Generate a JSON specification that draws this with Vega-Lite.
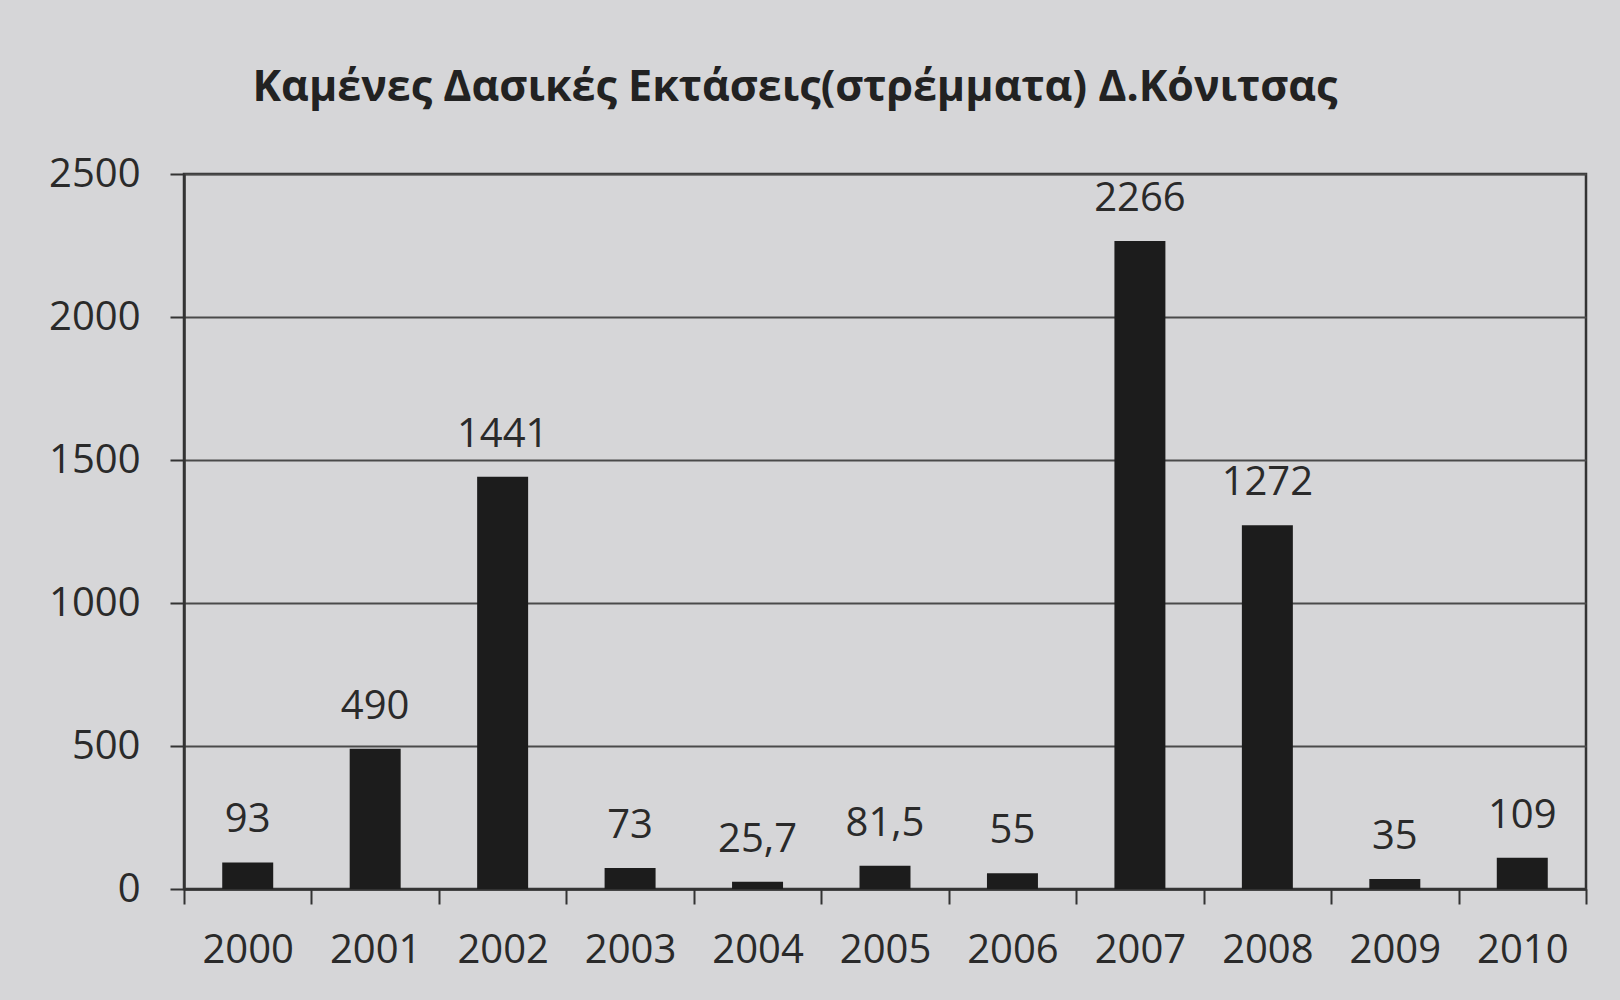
{
  "$schema": "https://vega.github.io/schema/vega-lite/v6.json",
  "width": 1402,
  "height": 715,
  "autosize": {"type": "none"},
  "padding": {"left": 184, "top": 174, "right": 34, "bottom": 111},
  "background": "#d6d6d8",
  "title": {
    "text": "Καμένες Δασικές Εκτάσεις(στρέμματα) Δ.Κόνιτσας",
    "font": "Open Sans",
    "fontSize": 43,
    "fontWeight": "bold",
    "color": "#222222",
    "anchor": "middle",
    "baseline": "alphabetic",
    "offset": 10,
    "dx": -90
  },
  "data": {
    "values": [
      {"year": "2000", "value": 93, "label": "93"},
      {"year": "2001", "value": 490, "label": "490"},
      {"year": "2002", "value": 1441, "label": "1441"},
      {"year": "2003", "value": 73, "label": "73"},
      {"year": "2004", "value": 25.7, "label": "25,7"},
      {"year": "2005", "value": 81.5, "label": "81,5"},
      {"year": "2006", "value": 55, "label": "55"},
      {"year": "2007", "value": 2266, "label": "2266"},
      {"year": "2008", "value": 1272, "label": "1272"},
      {"year": "2009", "value": 35, "label": "35"},
      {"year": "2010", "value": 109, "label": "109"}
    ]
  },
  "encoding": {
    "x": {
      "field": "year",
      "type": "nominal",
      "sort": null,
      "scale": {"paddingInner": 0, "paddingOuter": 0},
      "axis": {
        "title": null,
        "labelAngle": 0,
        "labelFont": "Open Sans",
        "labelFontSize": 40,
        "labelColor": "#2a2a2a",
        "labelPadding": 26,
        "tickBand": "extent",
        "tickSize": 15,
        "tickWidth": 2,
        "tickColor": "#333333",
        "domainColor": "#333333",
        "domainWidth": 2.5,
        "grid": false
      }
    },
    "y": {
      "field": "value",
      "type": "quantitative",
      "scale": {"domain": [0, 2500], "nice": false},
      "axis": {
        "title": null,
        "values": [0, 500, 1000, 1500, 2000, 2500],
        "format": "d",
        "labelFont": "Open Sans",
        "labelFontSize": 40,
        "labelColor": "#2a2a2a",
        "labelPadding": 30,
        "tickSize": 14,
        "tickWidth": 2,
        "tickColor": "#333333",
        "domainColor": "#333333",
        "domainWidth": 2.5,
        "grid": true,
        "gridColor": "#4a4a4a",
        "gridWidth": 2,
        "gridOpacity": 1
      }
    }
  },
  "layer": [
    {"mark": {"type": "bar", "color": "#1c1c1c", "width": {"band": 0.4}}},
    {
      "mark": {
        "type": "text",
        "baseline": "alphabetic",
        "dy": -30,
        "font": "Open Sans",
        "fontSize": 40,
        "color": "#2a2a2a"
      },
      "encoding": {"text": {"field": "label"}}
    }
  ],
  "config": {
    "view": {"stroke": "#333333", "strokeWidth": 2.5}
  }
}
